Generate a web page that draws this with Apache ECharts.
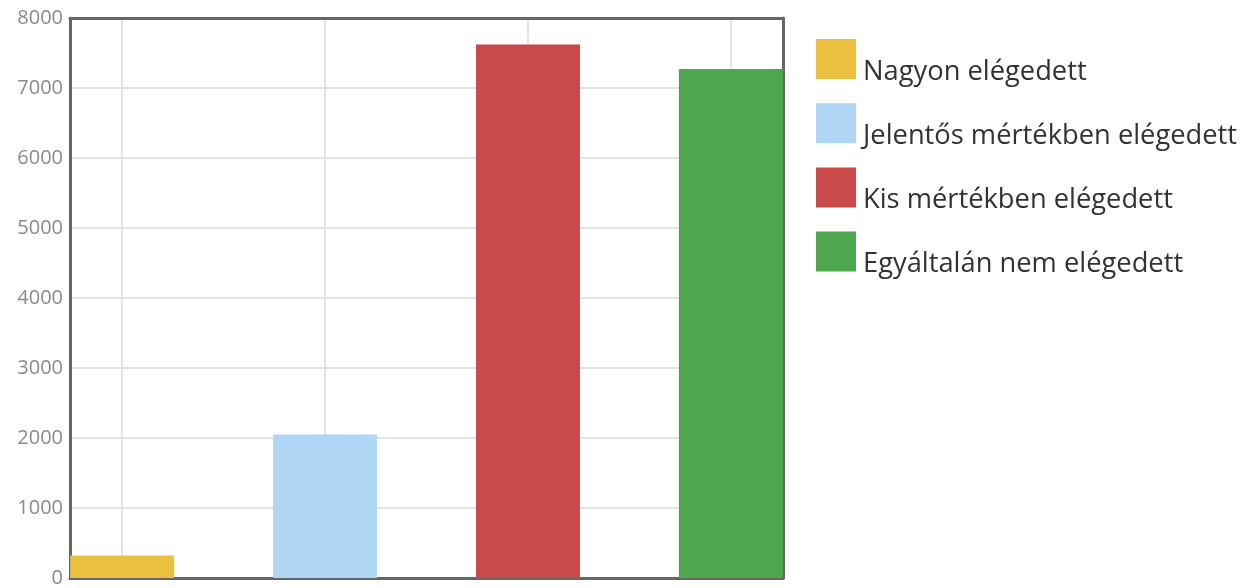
<!DOCTYPE html>
<html>
<head>
<meta charset="utf-8">
<script src="https://cdn.jsdelivr.net/npm/echarts@6/dist/echarts.min.js"></script>
<style>html,body{margin:0;padding:0;background:#fff}#c{width:1245px;height:588px}</style>
</head>
<body>
<div id="c"></div>
<script>
const categories = ['Nagyon elégedett', 'Jelentős mértékben elégedett', 'Kis mértékben elégedett', 'Egyáltalán nem elégedett'];
const values = [320, 2050, 7620, 7270];
const colors = ['#ebc040', '#b0d6f5', '#c94a4a', '#4ea64e'];
const yTicks = [0, 1000, 2000, 3000, 4000, 5000, 6000, 7000, 8000];

const chart = echarts.init(document.getElementById('c'));
const series = categories.map((name, i) => ({
  name: name,
  type: 'bar',
  data: [[i, values[i]]],
  barWidth: 104,
  barGap: '-100%',
  itemStyle: { color: colors[i] },
  z: 2
}));
const frameLine = { show: true, onZero: false, lineStyle: { color: '#666', width: 3 } };
chart.setOption({
  animation: false,
  color: colors,
  grid: { left: 70, right: 462, top: 18, bottom: 10 },
  legend: {
    orient: 'vertical', left: 816, top: 39, padding: 0,
    itemWidth: 40, itemHeight: 40, itemGap: 17.7,
    icon: 'rect',
    data: categories,
    formatter: '{a|{name}}',
    textStyle: {
      rich: { a: { fontFamily: 'Open Sans', fontSize: 27.3, color: '#333', padding: [26, 0, 0, 2] } }
    }
  },
  xAxis: [{
    type: 'value', min: -0.257, max: 3.257, position: 'bottom',
    axisLine: frameLine, axisLabel: { show: false },
    axisTick: { show: false, customValues: [0, 1, 2, 3] },
    splitLine: { show: true, lineStyle: { color: '#e3e3e3', width: 2 } }
  }, {
    type: 'value', min: -0.257, max: 3.257, position: 'top',
    axisLine: frameLine, axisLabel: { show: false }, axisTick: { show: false },
    splitLine: { show: false }
  }],
  yAxis: [{
    type: 'value', min: yTicks[0], max: yTicks[yTicks.length - 1], interval: 1000, position: 'left',
    axisLine: frameLine, axisTick: { show: false },
    axisLabel: { fontFamily: 'Open Sans', fontSize: 20, color: '#8a8a8a', margin: 7,
      formatter: v => String(v) },
    splitLine: { show: true, lineStyle: { color: '#e3e3e3', width: 2 } }
  }, {
    type: 'value', min: yTicks[0], max: yTicks[yTicks.length - 1], interval: 1000, position: 'right',
    axisLine: frameLine, axisTick: { show: false }, axisLabel: { show: false },
    splitLine: { show: false }
  }],
  series: series
});
</script>
</body>
</html>
